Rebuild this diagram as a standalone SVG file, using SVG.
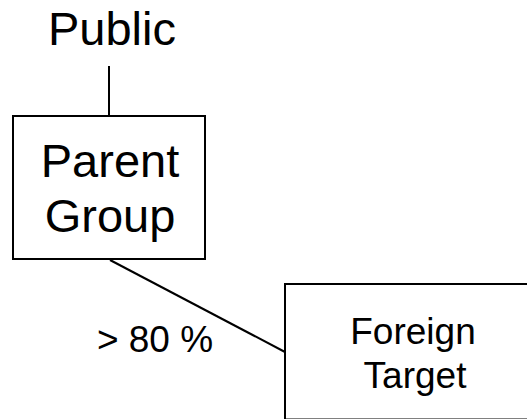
<svg xmlns="http://www.w3.org/2000/svg" width="527" height="419" viewBox="0 0 527 419">
  <style>
    .box { fill: #ffffff; stroke: #000000; stroke-width: 2; }
    .link { fill: none; stroke: #000000; stroke-width: 2; }
    .lbl { font-family: "Liberation Sans", Arial, sans-serif; fill: #000000; text-anchor: middle; }
    .big { font-size: 47px; }
    .small { font-size: 37px; }
  </style>
  <rect x="0" y="0" width="527" height="419" fill="#ffffff"/>

  <!-- connectors -->
  <g id="connectors">
    <line class="link" x1="109" y1="66" x2="109" y2="116"/>
    <line class="link" x1="110" y1="260" x2="285" y2="352"/>
    <text class="lbl small" x="155" y="352">&gt; 80 %</text>
  </g>

  <!-- top label -->
  <g id="node-public">
    <text class="lbl big" x="112" y="45">Public</text>
  </g>

  <!-- parent company -->
  <g id="node-parent">
    <rect class="box" x="13" y="116" width="192" height="143"/>
    <text class="lbl big" x="110" y="177">Parent</text>
    <text class="lbl big" x="110" y="232">Group</text>
  </g>

  <!-- acquired company -->
  <g id="node-target">
    <rect class="box" x="285" y="284" width="260" height="135.5"/>
    <text class="lbl small" x="413" y="344">Foreign</text>
    <text class="lbl small" x="415" y="388">Target</text>
  </g>
</svg>
